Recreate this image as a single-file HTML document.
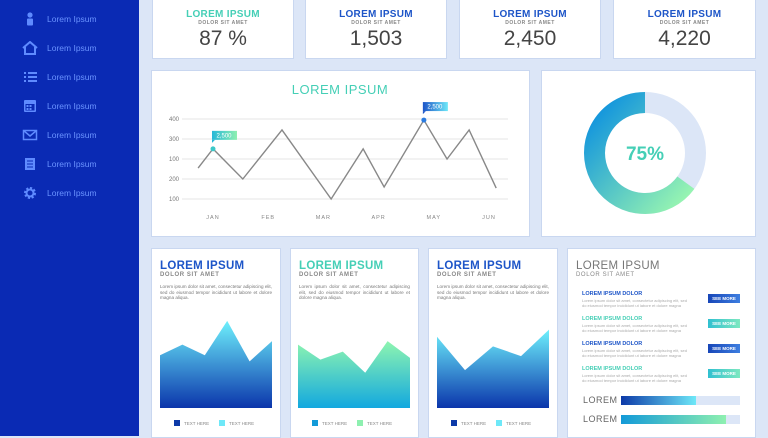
<!DOCTYPE html>
<html><head><meta charset="utf-8">
<style>
*{margin:0;padding:0;box-sizing:border-box}
body{width:768px;height:436px;overflow:hidden;background:#dce6f7;font-family:"Liberation Sans",sans-serif;position:relative}
.sb{position:absolute;left:0;top:0;width:139px;height:436px;background:#0a2ab4}
.nav{position:absolute;left:22px;height:16px;display:flex;align-items:center;color:#6a93ff;font-size:8.5px}
.nav i{display:inline-block;width:16px;height:14px;margin-right:9px;position:relative}
.card{position:absolute;background:#fff;border:1px solid #c9d7f0}
.kt{position:absolute;top:9px;width:100%;text-align:center;font-size:10px;font-weight:bold;letter-spacing:.3px}
.ks{position:absolute;top:20px;width:100%;text-align:center;font-size:5px;color:#888;letter-spacing:.5px;font-weight:bold}
.kv{position:absolute;top:27px;width:100%;text-align:center;font-size:21px;color:#444}
.bt{position:absolute;left:8px;top:11px;font-size:11.5px;font-weight:bold;letter-spacing:.3px}
.bs{position:absolute;left:8px;top:23px;font-size:6px;color:#888;letter-spacing:.6px;font-weight:bold}
.bp{position:absolute;left:8px;right:8px;top:35px;font-size:4.6px;color:#777;line-height:5.6px;text-align:justify}
.lg{position:absolute;top:171px;font-size:4.5px;color:#888;display:flex;align-items:center}
.lg b{display:inline-block;width:6px;height:6px;margin-right:4px}
.it{position:absolute;left:14px;font-size:5.5px;font-weight:bold}
.ip{position:absolute;left:14px;font-size:4px;color:#aaa;width:110px;line-height:5px}
.sm{position:absolute;left:140px;width:32px;height:9px;color:#fff;font-size:4.5px;font-weight:bold;text-align:center;line-height:9px}
</style></head><body>
<div class="sb">
 <div class="nav" style="top:11px"><i><svg width="16" height="14"><circle cx="8" cy="3" r="2.6" fill="#5f8bff"/><rect x="5" y="6.5" width="6" height="7" rx="1" fill="#5f8bff"/></svg></i>Lorem Ipsum</div>
 <div class="nav" style="top:40px"><i><svg width="16" height="14"><path d="M1 7 L8 1 L15 7 M3 6 V13 H13 V6" fill="none" stroke="#5f8bff" stroke-width="2"/></svg></i>Lorem Ipsum</div>
 <div class="nav" style="top:69px"><i><svg width="16" height="14"><g fill="#5f8bff"><rect x="2" y="2" width="2" height="2"/><rect x="6" y="2" width="9" height="2"/><rect x="2" y="6" width="2" height="2"/><rect x="6" y="6" width="9" height="2"/><rect x="2" y="10" width="2" height="2"/><rect x="6" y="10" width="9" height="2"/></g></svg></i>Lorem Ipsum</div>
 <div class="nav" style="top:98px"><i><svg width="16" height="14"><rect x="2" y="1" width="12" height="12" rx="1" fill="#5f8bff"/><rect x="3.5" y="5" width="9" height="6.5" fill="#0a2ab4"/><g fill="#5f8bff"><rect x="4.5" y="6" width="2" height="2"/><rect x="7.5" y="6" width="2" height="2"/><rect x="4.5" y="9" width="2" height="2"/><rect x="7.5" y="9" width="2" height="2"/></g></svg></i>Lorem Ipsum</div>
 <div class="nav" style="top:127px"><i><svg width="16" height="14"><rect x="1.5" y="2.5" width="13" height="9" fill="none" stroke="#5f8bff" stroke-width="1.5"/><path d="M1.5 2.5 L8 8 L14.5 2.5" fill="none" stroke="#5f8bff" stroke-width="1.5"/></svg></i>Lorem Ipsum</div>
 <div class="nav" style="top:156px"><i><svg width="16" height="14"><rect x="3" y="1" width="10" height="12" fill="#5f8bff"/><g stroke="#0a2ab4"><line x1="5" y1="4" x2="11" y2="4"/><line x1="5" y1="7" x2="11" y2="7"/><line x1="5" y1="10" x2="11" y2="10"/></g></svg></i>Lorem Ipsum</div>
 <div class="nav" style="top:185px"><i><svg width="16" height="14"><circle cx="8" cy="7" r="4.5" fill="none" stroke="#5f8bff" stroke-width="3" stroke-dasharray="2 1.5"/><circle cx="8" cy="7" r="3.5" fill="none" stroke="#5f8bff" stroke-width="2"/></svg></i>Lorem Ipsum</div>
</div>

<div class="card" style="left:152px;top:-1px;width:142px;height:60px"><div class="kt" style="color:#45cfb6">LOREM IPSUM</div><div class="ks">DOLOR SIT AMET</div><div class="kv">87 %</div></div>
<div class="card" style="left:305px;top:-1px;width:142px;height:60px"><div class="kt" style="color:#1d55c8">LOREM IPSUM</div><div class="ks">DOLOR SIT AMET</div><div class="kv">1,503</div></div>
<div class="card" style="left:459px;top:-1px;width:142px;height:60px"><div class="kt" style="color:#1d55c8">LOREM IPSUM</div><div class="ks">DOLOR SIT AMET</div><div class="kv">2,450</div></div>
<div class="card" style="left:613px;top:-1px;width:143px;height:60px"><div class="kt" style="color:#1d55c8">LOREM IPSUM</div><div class="ks">DOLOR SIT AMET</div><div class="kv">4,220</div></div>

<div class="card" style="left:151px;top:70px;width:379px;height:167px"></div>
<div class="card" style="left:541px;top:70px;width:215px;height:167px"></div>

<div class="card" style="left:151px;top:248px;width:130px;height:190px">
 <div class="bt" style="color:#1d55c8">LOREM IPSUM</div><div class="bs">DOLOR SIT AMET</div>
 <div class="bp">Lorem ipsum dolor sit amet, consectetur adipiscing elit, sed do eiusmod tempor incididunt ut labore et dolore magna aliqua.</div>
 <div class="lg" style="left:22px"><b style="background:#0d3aa8"></b>TEXT HERE</div><div class="lg" style="left:67px"><b style="background:#6ee8f8"></b>TEXT HERE</div>
</div>
<div class="card" style="left:290px;top:248px;width:129px;height:190px">
 <div class="bt" style="color:#45cfb6">LOREM IPSUM</div><div class="bs">DOLOR SIT AMET</div>
 <div class="bp">Lorem ipsum dolor sit amet, consectetur adipiscing elit, sed do eiusmod tempor incididunt ut labore et dolore magna aliqua.</div>
 <div class="lg" style="left:21px"><b style="background:#139ad8"></b>TEXT HERE</div><div class="lg" style="left:66px"><b style="background:#8ef0b0"></b>TEXT HERE</div>
</div>
<div class="card" style="left:428px;top:248px;width:130px;height:190px">
 <div class="bt" style="color:#1d55c8">LOREM IPSUM</div><div class="bs">DOLOR SIT AMET</div>
 <div class="bp">Lorem ipsum dolor sit amet, consectetur adipiscing elit, sed do eiusmod tempor incididunt ut labore et dolore magna aliqua.</div>
 <div class="lg" style="left:22px"><b style="background:#0d3aa8"></b>TEXT HERE</div><div class="lg" style="left:67px"><b style="background:#6ee8f8"></b>TEXT HERE</div>
</div>
<div class="card" style="left:567px;top:248px;width:189px;height:190px">
 <div class="bt" style="color:#777;font-weight:normal">LOREM IPSUM</div><div class="bs" style="font-weight:normal">DOLOR SIT AMET</div>
 <div class="it" style="top:42px;color:#1d55c8">LOREM IPSUM DOLOR</div><div class="ip" style="top:49px">Lorem ipsum dolor sit amet, consectetur adipiscing elit, sed do eiusmod tempor incididunt ut labore et dolore magna</div>
 <div class="sm" style="top:45px;background:linear-gradient(90deg,#1746b8,#3d7ee0)">SEE MORE</div>
 <div class="it" style="top:67px;color:#45cfb6">LOREM IPSUM DOLOR</div><div class="ip" style="top:74px">Lorem ipsum dolor sit amet, consectetur adipiscing elit, sed do eiusmod tempor incididunt ut labore et dolore magna</div>
 <div class="sm" style="top:70px;background:linear-gradient(90deg,#30c0d0,#7ee8c0)">SEE MORE</div>
 <div class="it" style="top:92px;color:#1d55c8">LOREM IPSUM DOLOR</div><div class="ip" style="top:99px">Lorem ipsum dolor sit amet, consectetur adipiscing elit, sed do eiusmod tempor incididunt ut labore et dolore magna</div>
 <div class="sm" style="top:95px;background:linear-gradient(90deg,#1746b8,#3d7ee0)">SEE MORE</div>
 <div class="it" style="top:117px;color:#45cfb6">LOREM IPSUM DOLOR</div><div class="ip" style="top:124px">Lorem ipsum dolor sit amet, consectetur adipiscing elit, sed do eiusmod tempor incididunt ut labore et dolore magna</div>
 <div class="sm" style="top:120px;background:linear-gradient(90deg,#30c0d0,#7ee8c0)">SEE MORE</div>
 <div style="position:absolute;left:15px;top:146px;font-size:9px;color:#666;letter-spacing:.5px">LOREM</div>
 <div style="position:absolute;left:53px;top:147px;width:119px;height:9px;background:#dce6f7"><div style="width:63%;height:100%;background:linear-gradient(90deg,#0d3aa8,#6ee8f8)"></div></div>
 <div style="position:absolute;left:15px;top:165px;font-size:9px;color:#666;letter-spacing:.5px">LOREM</div>
 <div style="position:absolute;left:53px;top:166px;width:119px;height:9px;background:#dce6f7"><div style="width:88%;height:100%;background:linear-gradient(90deg,#139ad8,#8ef0b0)"></div></div>
</div>

<svg id="ov" width="768" height="436" style="position:absolute;left:0;top:0">
<defs>
 <linearGradient id="g1" x1="0" y1="0" x2="0" y2="1"><stop offset="0" stop-color="#6ef0fc"/><stop offset="1" stop-color="#0b35ab"/></linearGradient>
 <linearGradient id="g2" x1="0" y1="0" x2="0" y2="1"><stop offset="0" stop-color="#8ef5b0"/><stop offset="1" stop-color="#12a8df"/></linearGradient>
 <linearGradient id="gd" x1="0" y1="0" x2="1" y2="1"><stop offset="0" stop-color="#0a8fe0"/><stop offset="1" stop-color="#9af7b0"/></linearGradient>
 <linearGradient id="tg1" x1="0" y1="0" x2="1" y2="0"><stop offset="0" stop-color="#27b8d8"/><stop offset="1" stop-color="#8ef0b0"/></linearGradient>
 <linearGradient id="tg2" x1="0" y1="0" x2="1" y2="0"><stop offset="0" stop-color="#1d55c8"/><stop offset="1" stop-color="#6ee8f8"/></linearGradient>
</defs>
<text x="340" y="94" text-anchor="middle" font-size="13" fill="#45cfb6" letter-spacing=".5">LOREM IPSUM</text>
<g id="line"></g>
<g id="donut"></g>
<g id="areas"></g>
</svg>
<script>
const NS='http://www.w3.org/2000/svg';
function mk(p,t,a){const e=document.createElementNS(NS,t);for(const k in a)e.setAttribute(k,a[k]);p.appendChild(e);return e;}
// line chart data
const months=['JAN','FEB','MAR','APR','MAY','JUN'];
const yTickLabels=['100','200','100','300','400'];
const lineX=[-0.27,0,0.54,1.25,2.14,2.72,3.1,3.82,4.24,4.64,5.13];
const lineY=[216,288,175,359,100,288,145,396,250,359,141];
const tagIdx=[1,7];
const tagLabels=['2,500','2,500'];
// donut
const donutPct=65;
const donutLabel='75%';
// areas
const area1=[60,72,60,99,53,76];
const area2=[72,55,64,40,76,57];
const area3=[81,43,70,59,89];

const L=document.getElementById('line');
const xs=i=>213+55.2*i, ys=v=>199-(v-100)/300*80;
yTickLabels.forEach((t,i)=>{const y=199-i*20;
 const g=mk(L,'line',{x1:182,x2:508,y1:y,y2:y,stroke:'#e4e4e4','stroke-width':1});
 
 const tx=mk(L,'text',{x:169,y:y+2,'font-size':6,fill:'#777'});tx.textContent=t;
 });
months.forEach((m,i)=>{const tx=mk(L,'text',{x:xs(i),y:219,'font-size':5.5,fill:'#888','text-anchor':'middle','letter-spacing':'1'});tx.textContent=m;
 });
const pl=mk(L,'polyline',{points:lineX.map((x,i)=>xs(x)+','+ys(lineY[i])).join(' '),fill:'none',stroke:'#888','stroke-width':1.4});

tagIdx.forEach((k,j)=>{const x=xs(lineX[k]),y=ys(lineY[k]);
 const c=mk(L,'circle',{cx:x,cy:y,r:2.5,fill:j?'#2a7be0':'#3cc8c8'});
 const r=mk(L,'rect',{x:x-1,y:y-18,width:25,height:9,fill:'url(#tg'+(j?2:1)+')'});
 mk(L,'path',{d:`M${x-1} ${y-9} L${x+2} ${y-9} L${x-1} ${y-6}Z`,fill:j?'#1d55c8':'#27b8d8'});
 const t=mk(L,'text',{x:x+11,y:y-11.5,'font-size':6,fill:'#fff','text-anchor':'middle'});t.textContent=tagLabels[j];
 });

const D=document.getElementById('donut');
const cx=645,cy=153,R=50.5;
const bg=mk(D,'circle',{cx,cy,r:R,fill:'none',stroke:'#dce6f7','stroke-width':21});
const a0=-Math.PI/2, a1=a0-donutPct/100*2*Math.PI;
const large=donutPct>50?1:0;
const arc=mk(D,'path',{d:`M${cx+R*Math.cos(a0)} ${cy+R*Math.sin(a0)} A${R} ${R} 0 ${large} 0 ${cx+R*Math.cos(a1)} ${cy+R*Math.sin(a1)}`,fill:'none',stroke:'url(#gd)','stroke-width':21});

const dt=mk(D,'text',{x:cx,y:cy+7,'font-size':19,'font-weight':'bold',fill:'#45cfb6','text-anchor':'middle'});dt.textContent=donutLabel;


const A=document.getElementById('areas');
function area(vals,x0,x1,grad,name){const base=408,h=88,n=vals.length;
 const pts=vals.map((v,i)=>(x0+(x1-x0)*i/(n-1))+','+(base-v/100*h));
 const p=mk(A,'polygon',{points:`${x0},${base} ${pts.join(' ')} ${x1},${base}`,fill:grad});
 }
area(area1,160,272,'url(#g1)','area-series-1');
area(area2,298,410,'url(#g2)','area-series-2');
area(area3,437,549,'url(#g1)','area-series-3');
</script>
</body></html>
